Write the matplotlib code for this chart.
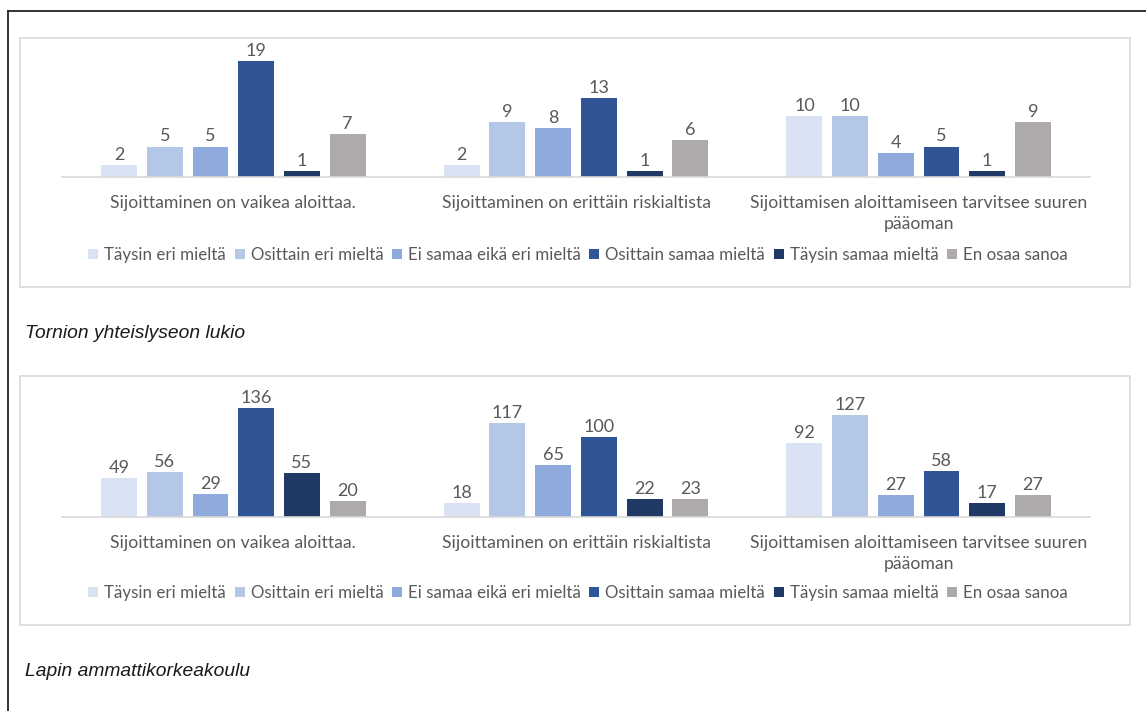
import matplotlib.pyplot as plt
from matplotlib.patches import Rectangle, Patch
from matplotlib.lines import Line2D

W, H = 1146, 711

categories = [
    "Sijoittaminen on vaikea aloittaa.",
    "Sijoittaminen on erittäin riskialtista",
    "Sijoittamisen aloittamiseen tarvitsee suuren\npääoman",
]
answers = [
    "Täysin eri mieltä",
    "Osittain eri mieltä",
    "Ei samaa eikä eri mieltä",
    "Osittain samaa mieltä",
    "Täysin samaa mieltä",
    "En osaa sanoa",
]
colors = ["#DAE3F3", "#B4C7E7", "#8FAADC", "#2F5597", "#203864", "#AEAAAA"]

# counts per answer, one value per category
tornio = [
    [2, 2, 10],
    [5, 9, 10],
    [5, 8, 4],
    [19, 13, 5],
    [1, 1, 1],
    [7, 6, 9],
]
lapin_amk = [
    [49, 18, 92],
    [56, 117, 127],
    [29, 65, 27],
    [136, 100, 58],
    [55, 22, 17],
    [20, 23, 27],
]

plt.rcParams["font.family"] = ["Lato", "DejaVu Sans"]
text_col = "#595959"

fig = plt.figure(figsize=(W / 100, H / 100), dpi=100)


def fx(x):
    return x / W


def fy(y):
    return 1 - y / H


def panel(data, box_top, box_bottom, base_y, px_per_unit, caption, caption_y):
    # light frame around the chart
    fig.add_artist(Rectangle((fx(20), fy(box_bottom)), fx(1130) - fx(20),
                             fy(box_top) - fy(box_bottom), transform=fig.transFigure,
                             fill=False, edgecolor="#D9D9D9", lw=1.2))
    left, right, top = 62, 1090, base_y - 130
    ax = fig.add_axes([fx(left), fy(base_y), fx(right) - fx(left), fy(top) - fy(base_y)])
    pitch, width = 0.1333, 0.105
    for j, (vals, c) in enumerate(zip(data, colors)):
        xs = [i + (j - 2.5) * pitch for i in range(len(categories))]
        bars = ax.bar(xs, vals, width=width, color=c)
        ax.bar_label(bars, padding=1.5, color=text_col, fontsize=13)
    ax.set_xlim(-0.5, 2.5)
    ax.set_ylim(0, 130 / px_per_unit)
    for s in ["top", "left", "right"]:
        ax.spines[s].set_visible(False)
    ax.spines["bottom"].set_color("#D9D9D9")
    ax.spines["bottom"].set_linewidth(1.2)
    ax.set_yticks([])
    ax.set_xticks(range(len(categories)))
    ax.set_xticklabels(categories, color=text_col, fontsize=12.7, linespacing=1.4,
                       va="top")
    ax.tick_params(axis="x", length=0, pad=13)
    handles = [Patch(facecolor=c, edgecolor="none") for c in colors]
    fig.legend(handles, answers, loc="center", ncol=6,
               bbox_to_anchor=(fx(578), fy(box_bottom - 32)), frameon=False,
               handlelength=0.6, handleheight=0.6, handletextpad=0.35,
               columnspacing=0.5, fontsize=12.2, labelcolor=text_col)
    fig.text(fx(25), fy(caption_y), caption, style="italic", fontsize=13.9,
             family="Liberation Sans", va="center", color="#1a1a1a")


panel(tornio, 38, 287, 177, 6.1, "Tornion yhteislyseon lukio", 333)
panel(lapin_amk, 376, 625, 517, 0.80, "Lapin ammattikorkeakoulu", 671)

# page border lines
fig.add_artist(Line2D([fx(8), fx(W)], [fy(11), fy(11)], transform=fig.transFigure,
                      color="#222222", lw=1.3))
fig.add_artist(Line2D([fx(8), fx(8)], [fy(11), 0], transform=fig.transFigure,
                      color="#222222", lw=1.3))

fig.savefig("out.png", dpi=100)
